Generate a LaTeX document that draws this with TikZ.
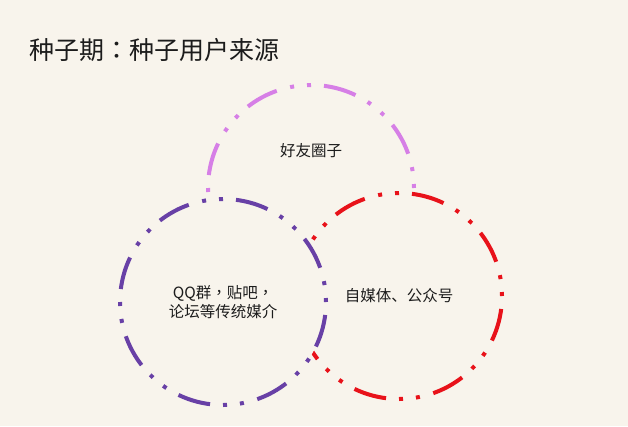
\documentclass[tikz,border=0pt]{standalone}
\usepackage{fontspec}
\setmainfont{Noto Sans CJK SC}
\newfontfamily\tcfont{Noto Sans CJK TC}
\definecolor{bgc}{HTML}{F8F4EC}
\definecolor{topc}{HTML}{D67FE6}
\definecolor{purc}{HTML}{6840A6}
\definecolor{redc}{HTML}{E8121A}
\definecolor{txtc}{HTML}{1C1C1C}
\begin{document}
\begin{tikzpicture}[x=1pt,y=-1pt,
  ring/.style={circle, minimum size=206pt, inner sep=0pt, line width=4pt,
    dash pattern=on 33pt off 13pt on 4pt off 13pt on 4pt off 13.9pt, dash phase=46pt, fill=bgc},
  lbl/.style={text=txtc, font=\fontsize{15.5}{19}\selectfont, align=center, inner sep=0pt}]
\fill[bgc] (0,0) rectangle (628,426);
\useasboundingbox (0,0) rectangle (628,426);
\node[anchor=west, text=txtc, font=\fontsize{25}{29}\selectfont, inner sep=0pt] (title) at (29,50) {种子期{\tcfont ：}种子用户来源};
\node[ring, draw=topc] (friends) at (311,188) {};
\node[lbl] (friendstxt) at (311,151) {好友圈子};
\node[ring, draw=redc, lbl] (media) at (399,296) {自媒体、公众号};
\node[ring, draw=purc, lbl] (qq) at (223,302) {QQ群{\tcfont ，}贴吧{\tcfont ，}\\论坛等传统媒介};
\end{tikzpicture}
\end{document}
